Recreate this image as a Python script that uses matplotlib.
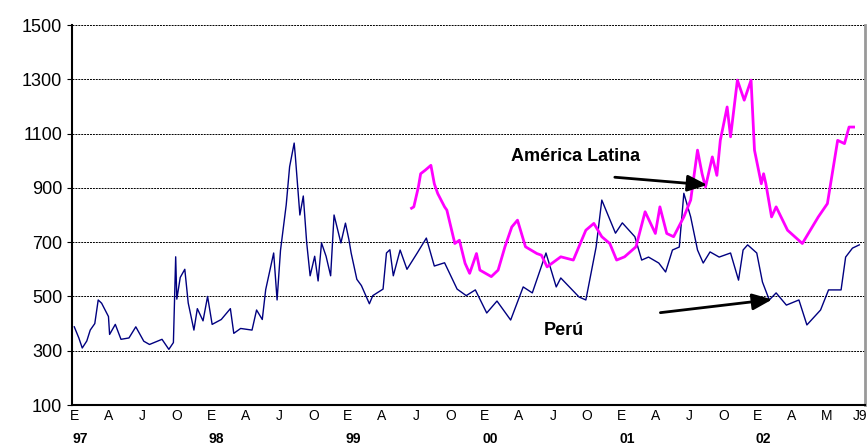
import numpy as np
import matplotlib.pyplot as plt

plt.rcParams['font.family'] = ['Liberation Sans', 'DejaVu Sans']

# months since Jan 1997, values in basis points
peru_m = [0, 0.4, 0.7, 1.1, 1.4, 1.8, 2.1, 2.4, 3.0, 3.1, 3.6, 4.1, 4.8, 5.4, 6.1, 6.6, 7.7, 8.3, 8.7,
          8.9, 9.0, 9.3, 9.7, 10.0, 10.5, 10.8, 11.3, 11.7, 12.1, 12.9, 13.7, 14.0, 14.6, 15.6, 16.0,
          16.5, 16.8, 17.5, 17.8, 18.1, 18.6, 18.9, 19.3, 19.4, 19.8, 20.1, 20.4, 20.7, 21.1, 21.4,
          21.7, 22.1, 22.5, 22.8, 23.4, 23.8, 24.1, 24.3, 24.8, 25.2, 25.9, 26.2, 27.1, 27.4, 27.7,
          28.0, 28.6, 29.2, 30.1, 30.9, 31.6, 32.5, 33.6, 34.4, 35.2, 36.2, 37.1, 38.3, 39.4, 40.2,
          41.4, 42.3, 42.7, 44.3, 44.9, 45.8, 46.3, 47.5, 48.1, 49.2, 49.8, 50.4, 51.3, 51.9, 52.5,
          53.1, 53.5, 54.1, 54.7, 55.2, 55.8, 56.6, 57.6, 58.3, 58.7, 59.1, 59.9, 60.4, 61.0, 61.6,
          62.5, 63.6, 64.3, 65.5, 66.2, 67.3, 67.7, 68.3, 68.9]
peru_v = [388, 347, 310, 336, 376, 400, 487, 475, 426, 360, 397, 342, 347, 388, 335, 323, 342, 305, 330,
          646, 490, 570, 600, 476, 376, 455, 410, 500, 397, 415, 455, 364, 382, 376, 450,
          415, 525, 660, 487, 670, 837, 978, 1065, 1018, 800, 870, 697, 576, 648, 557,
          697, 648, 576, 800, 697, 770, 710, 660, 563, 540, 473, 503, 527, 660, 672,
          576, 671, 600, 660, 715, 612, 624, 527, 503, 524, 439, 483, 413, 535, 513,
          660, 535, 568, 498, 487, 682, 855, 733, 771, 720, 634, 645, 623, 590, 671,
          682, 880, 793, 671, 623, 664, 645, 660, 560, 671, 690, 660, 553, 487, 513,
          468, 487, 395, 450, 524, 524, 645, 678, 690]

latam_m = [29.6, 29.8, 30.2, 30.4, 30.8, 31.3, 31.6, 31.9, 32.5, 32.7, 33.4, 33.8, 34.3, 34.7,
           35.3, 35.6, 36.6, 37.2, 37.8, 38.4, 38.9, 39.6, 40.6, 41.0, 41.5, 42.7, 43.8, 44.9,
           45.6, 46.3, 47.0, 47.6, 48.3, 49.3, 50.1, 51.0, 51.4, 52.0, 52.6, 53.5, 54.1, 54.7,
           55.1, 55.4, 56.0, 56.4, 56.7, 57.3, 57.6, 58.2, 58.8, 59.4, 59.7, 60.3, 60.5, 60.7,
           61.2, 61.6, 62.6, 63.9, 65.3, 66.1, 67.0, 67.6, 68.0, 68.4]
latam_v = [825, 830, 903, 952, 965, 983, 915, 879, 830, 818, 695, 707, 622, 585,
           658, 597, 573, 597, 683, 756, 781, 683, 658, 652, 609, 646, 634, 744,
           769, 720, 695, 634, 646, 683, 812, 732, 830, 732, 720, 793, 855, 1039,
           952, 903, 1014, 946, 1075, 1198, 1088, 1297, 1223, 1297, 1039, 915, 952, 915,
           793, 830, 744, 695, 793, 842, 1075, 1063, 1124, 1124]

tick_pos = list(range(0, 70, 3))
tick_lbl = ["E", "A", "J", "O"] * 5 + ["E", "A", "M", "J9"]
years = ["97", "98", "99", "00", "01", "02"]

fig = plt.figure(figsize=(8.67, 4.47), dpi=100)
ax = fig.add_axes([72 / 867, 42 / 447, 793 / 867, 380 / 447])

ax.plot(peru_m, peru_v, color="#000080", lw=1.0)
ax.plot(latam_m, latam_v, color="#ff00ff", lw=2.0)

ax.set_ylim(100, 1500)
ax.set_yticks(range(100, 1501, 200))
ax.set_xlim(-0.2, 69.4)
ax.set_xticks(tick_pos)
ax.set_xticklabels(tick_lbl, fontsize=10)
ax.tick_params(axis="y", labelsize=13)
ax.tick_params(axis="x", length=0, pad=3)
ax.yaxis.grid(True, color="black", ls=(0, (2, 1)), lw=0.7)
ax.spines["top"].set_visible(False)
ax.spines["right"].set_color("#999999")
ax.spines["right"].set_linewidth(2)
ax.spines["left"].set_linewidth(1.5)
ax.spines["bottom"].set_linewidth(1.5)

for i, y in enumerate(years):
    ax.text(i * 12 + 0.5, -0.09, y, transform=ax.get_xaxis_transform(),
            ha="center", va="center", fontsize=10, fontweight="bold")

ax.text(44, 1014, "América Latina", ha="center", va="center", fontsize=13, fontweight="bold")
ax.annotate("", xy=(55.8, 910), xytext=(47.2, 940),
            arrowprops=dict(arrowstyle="-|>,head_length=1.2,head_width=0.5", color="black", lw=2))
ax.text(43, 376, "Perú", ha="center", va="center", fontsize=13, fontweight="bold")
ax.annotate("", xy=(61.5, 490), xytext=(51.2, 439),
            arrowprops=dict(arrowstyle="-|>,head_length=1.2,head_width=0.5", color="black", lw=2))

fig.savefig("out.png")
